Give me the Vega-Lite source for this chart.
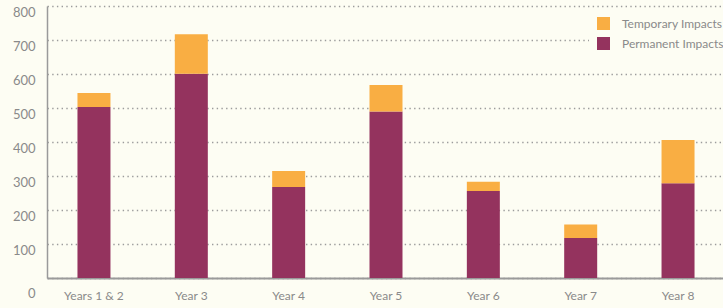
{
  "$schema": "https://vega.github.io/schema/vega-lite/v6.json",
  "width": 678,
  "height": 272,
  "autosize": {"type": "none"},
  "padding": {"left": 47, "top": 6, "right": 0, "bottom": 30},
  "background": "#fdfdf3",
  "data": {
    "values": [
      {"year": "Years 1 & 2", "type": "Permanent Impacts", "value": 503},
      {"year": "Years 1 & 2", "type": "Temporary Impacts", "value": 41},
      {"year": "Year 3", "type": "Permanent Impacts", "value": 601},
      {"year": "Year 3", "type": "Temporary Impacts", "value": 116},
      {"year": "Year 4", "type": "Permanent Impacts", "value": 268},
      {"year": "Year 4", "type": "Temporary Impacts", "value": 47},
      {"year": "Year 5", "type": "Permanent Impacts", "value": 490},
      {"year": "Year 5", "type": "Temporary Impacts", "value": 78},
      {"year": "Year 6", "type": "Permanent Impacts", "value": 256},
      {"year": "Year 6", "type": "Temporary Impacts", "value": 27},
      {"year": "Year 7", "type": "Permanent Impacts", "value": 118},
      {"year": "Year 7", "type": "Temporary Impacts", "value": 39},
      {"year": "Year 8", "type": "Permanent Impacts", "value": 279},
      {"year": "Year 8", "type": "Temporary Impacts", "value": 127}
    ]
  },
  "config": {
    "view": {"stroke": null},
    "font": "Lato"
  },
  "mark": {"type": "bar"},
  "encoding": {
    "x": {
      "field": "year",
      "type": "nominal",
      "sort": null,
      "scale": {"paddingInner": 0.661, "paddingOuter": 0.313},
      "axis": {
        "title": null,
        "labelAngle": 0,
        "ticks": false,
        "domainColor": "#9a9a9a",
        "domainWidth": 2,
        "labelColor": "#8a8a8a",
        "labelFontSize": 12,
        "labelPadding": 12,
        "labelFont": "Lato"
      }
    },
    "y": {
      "field": "value",
      "type": "quantitative",
      "aggregate": "sum",
      "stack": "zero",
      "scale": {"domain": [0, 800], "nice": false},
      "axis": {
        "title": null,
        "values": [0, 100, 200, 300, 400, 500, 600, 700, 800],
        "labelOverlap": false,
        "ticks": false,
        "domainColor": "#9a9a9a",
        "domainWidth": 1.5,
        "labelColor": "#8a8a8a",
        "labelFontSize": 13,
        "labelPadding": 12,
        "labelOffset": {"condition": {"test": "datum.value == 0", "value": 15}, "value": 6},
        "gridColor": "#9c9c9c",
        "gridDash": [1.4, 3.3],
        "gridWidth": 1.4
      }
    },
    "color": {
      "field": "type",
      "type": "nominal",
      "scale": {
        "domain": ["Temporary Impacts", "Permanent Impacts"],
        "range": ["#f9ae43", "#94335e"]
      },
      "legend": {
        "title": null,
        "orient": "none",
        "legendX": 542,
        "legendY": 3,
        "padding": 8,
        "fillColor": "#fdfdf3",
        "symbolType": "square",
        "symbolSize": 169,
        "symbolStrokeWidth": 0,
        "labelColor": "#8a8a8a",
        "labelFontSize": 12,
        "labelOffset": 12,
        "rowPadding": 7
      }
    },
    "order": {"field": "type", "sort": "ascending"}
  }
}
